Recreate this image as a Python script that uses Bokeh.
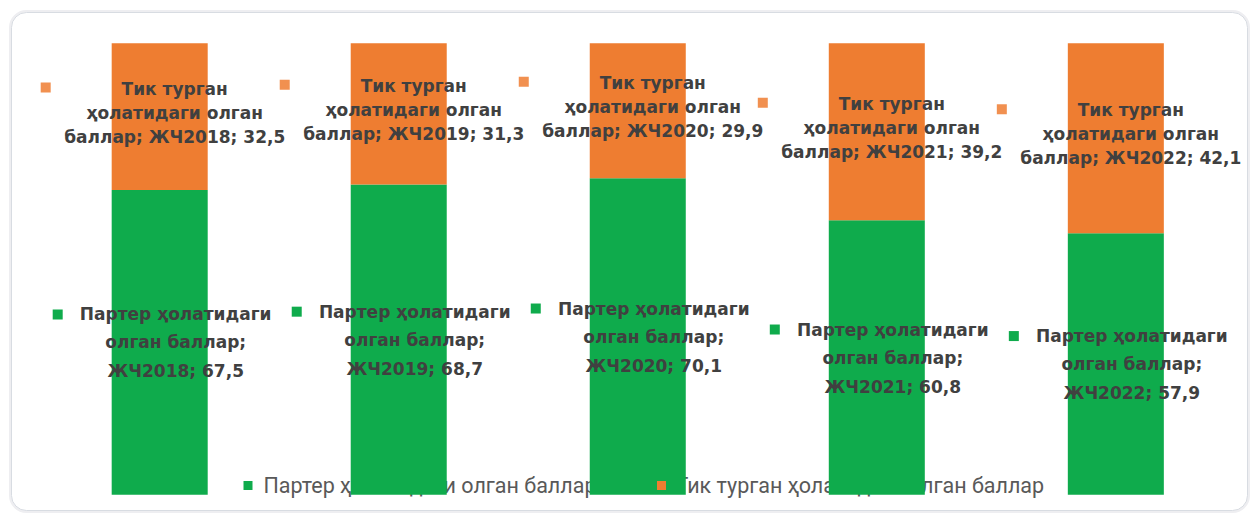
from bokeh.plotting import figure
from bokeh.models import ColumnDataSource, Range1d
from bokeh.embed import file_html
from bokeh.resources import INLINE
from bokeh.core.properties import value

categories = ["ЖЧ2018", "ЖЧ2019", "ЖЧ2020", "ЖЧ2021", "ЖЧ2022"]
parter = [67.5, 68.7, 70.1, 60.8, 57.9]
tik = [32.5, 31.3, 29.9, 39.2, 42.1]
series_names = ["Партер ҳолатидаги олган баллар", "Тик турган ҳолатидаги олган баллар"]

GREEN = "#0fab4c"
ORANGE = "#ee7d31"
TEXT = "#404040"
LEG_TEXT = "#595959"

W, H = 1250, 514
X0, X1 = -0.666, 4.5634
Y0, Y1 = -4.362, 109.455
PX_X = W / (X1 - X0)
PX_Y = H / (Y1 - Y0)


def dx(px):  # screen x (from left) -> data x
    return X0 + px / PX_X


def dy(py):  # screen y (from top) -> data y
    return Y1 - py / PX_Y


def fmt(v):
    return f"{v:.1f}".replace(".", ",")


xs = list(range(len(categories)))
gw = series_names[0].split()
ow = series_names[1].split()

g_mid = [p / 2 for p in parter]
o_mid = [p + t / 2 for p, t in zip(parter, tik)]

src = ColumnDataSource(dict(
    x=xs, parter=parter, tik=tik, g_mid=g_mid, o_mid=o_mid,
    g1=[" ".join(gw[0:2])] * 5,
    g2=[" ".join(gw[2:4]) + ";"] * 5,
    g3=[f"{c}; {fmt(v)}" for c, v in zip(categories, parter)],
    o1=[" ".join(ow[0:2])] * 5,
    o2=[" ".join(ow[2:4])] * 5,
    o3=[f"{ow[4]}; {c}; {fmt(v)}" for c, v in zip(categories, tik)],
    gkx=[x - 102 / PX_X for x in xs],
    gky=[m + 28 / PX_Y for m in g_mid],
    okx=[x - 114 / PX_X for x in xs],
    oky=[m + 29 / PX_Y for m in o_mid],
))

p = figure(width=W, height=H, x_range=Range1d(X0, X1), y_range=Range1d(Y0, Y1),
           output_backend="svg", toolbar_location=None, min_border=0,
           outline_line_color=None, background_fill_color="white",
           border_fill_color="white")
p.axis.visible = False
p.grid.visible = False

# card with rounded border
p.quad(left=[dx(10)], right=[dx(1248)], top=[dy(11)], bottom=[dy(511)],
       fill_color="white", line_color="#eeeef1", line_width=3, border_radius=16)
p.quad(left=[dx(11)], right=[dx(1247)], top=[dy(12)], bottom=[dy(510)],
       fill_color="white", line_color="#d8dce2", line_width=1, border_radius=15)

# legend (drawn beneath the bars, as in the reference)
leg_y = dy(485)
p.scatter(x=[dx(247.5)], y=[leg_y], marker="square", size=9,
          fill_color=GREEN, line_color=None)
p.text(x=[dx(263), dx(675)], y=[leg_y, leg_y], text=series_names,
       text_align="left", text_baseline="middle", text_font=value("Roboto"),
       text_font_size="21.5px", text_color=LEG_TEXT)

p.vbar_stack(["parter", "tik"], x="x", width=0.4017, source=src,
             fill_color=[GREEN, ORANGE], line_color=None)

p.scatter(x=[dx(661)], y=[leg_y], marker="square", size=9,
          fill_color=ORANGE, line_color=None)

common = dict(source=src, text_align="center", text_baseline="middle",
              text_font=value("DejaVu Sans"), text_font_style="bold",
              text_font_size="17px", text_color=TEXT)

for col, off in (("o1", -28), ("o2", -4), ("o3", 20)):
    p.text(x="x", y="o_mid", text=col, x_offset=15, y_offset=off, **common)
for col, off in (("g1", -28), ("g2", 0), ("g3", 29)):
    p.text(x="x", y="g_mid", text=col, x_offset=16, y_offset=off, **common)

p.scatter(x="okx", y="oky", marker="square", size=10, source=src,
          fill_color=ORANGE, fill_alpha=0.85, line_color=None)
p.scatter(x="gkx", y="gky", marker="square", size=10, source=src,
          fill_color=GREEN, line_color=None)

open("out.html", "w").write(file_html(p, INLINE))
